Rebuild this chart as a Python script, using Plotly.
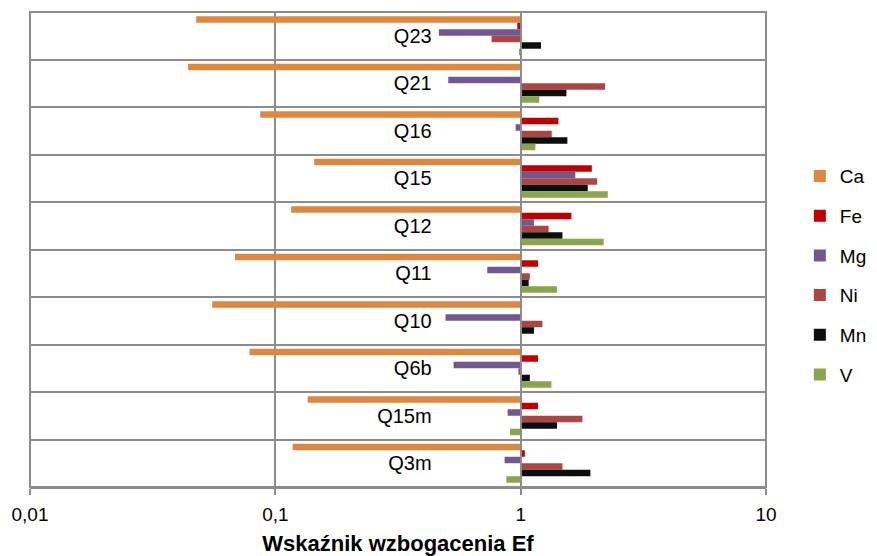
import plotly.graph_objects as go

categories = ["Q23", "Q21", "Q16", "Q15", "Q12", "Q11", "Q10", "Q6b", "Q15m", "Q3m"]
series_names = ["Ca", "Fe", "Mg", "Ni", "Mn", "V"]
Ca = [0.0476, 0.0441, 0.0868, 0.144, 0.116, 0.0685, 0.0553, 0.0785, 0.1355, 0.1177]
Fe = [0.969, 1.0, 1.425, 1.95, 1.61, 1.177, 1.005, 1.177, 1.177, 1.04]
Mg = [0.464, 0.507, 0.954, 1.67, 1.133, 0.731, 0.494, 0.533, 0.885, 0.86]
Ni = [0.761, 2.21, 1.338, 2.05, 1.30, 1.09, 1.226, 0.979, 1.785, 1.48]
Mn = [1.21, 1.536, 1.55, 1.877, 1.48, 1.078, 1.133, 1.09, 1.406, 1.924]
V = [0.99, 1.19, 1.148, 2.265, 2.18, 1.406, 1.0, 1.334, 0.905, 0.874]
tick_vals = [0.01, 0.1, 1, 10]
tick_text = ["0,01", "0,1", "1", "10"]
x_title = "Wskaźnik wzbogacenia Ef"

colors = ["#DD8840", "#C00000", "#71588F", "#AA4643", "#0D0D0D", "#89A54E"]
data = [Ca, Fe, Mg, Ni, Mn, V]
baseline = 1

FONT = "Liberation Sans, Arial, sans-serif"
GRID = "#8C8C8C"

fig = go.Figure()
for name, vals, col in zip(series_names, data, colors):
    fig.add_trace(go.Bar(
        y=categories,
        x=[v - baseline for v in vals],
        base=baseline,
        orientation="h",
        name=name,
        legendgroup=name,
        marker=dict(color=col, line=dict(width=0)),
    ))

# page body has an 8px margin, so the figure is sized to fit the 877x556 window
fig.update_layout(
    width=869, height=548,
    margin=dict(l=22, r=111, t=4, b=69, autoexpand=False),
    paper_bgcolor="white", plot_bgcolor="white",
    barmode="group", bargap=0.18, bargroupgap=0,
    font=dict(family=FONT, size=19, color="#000000"),
    legend=dict(
        x=1.046, xanchor="left", y=0.445, yanchor="middle",
        traceorder="grouped", tracegroupgap=12,
        font=dict(size=19), itemwidth=30, borderwidth=0,
        bgcolor="rgba(0,0,0,0)",
    ),
    xaxis=dict(
        type="log", range=[-2, 1],
        tickvals=tick_vals, ticktext=tick_text,
        showgrid=True, gridcolor=GRID, gridwidth=2,
        showline=True, linecolor=GRID, linewidth=2,
        ticks="outside", ticklen=6, tickcolor=GRID, tickwidth=2,
        tickfont=dict(size=19), ticklabelstandoff=3,
        zeroline=False,
        title=dict(text="<b>" + x_title + "</b>", font=dict(size=22), standoff=14),
    ),
    yaxis=dict(
        type="category", autorange="reversed",
        anchor="free", position=2 / 3,
        showline=True, linecolor=GRID, linewidth=2,
        showgrid=True, gridcolor=GRID, gridwidth=2,
        tickson="boundaries", ticks="", ticklabelstandoff=84,
        tickfont=dict(size=20),
        zeroline=False,
    ),
    shapes=[dict(type="rect", xref="paper", yref="paper", x0=0, x1=1, y0=0, y1=1,
                 line=dict(color=GRID, width=2), layer="above")],
)

fig.write_html("out.html")
